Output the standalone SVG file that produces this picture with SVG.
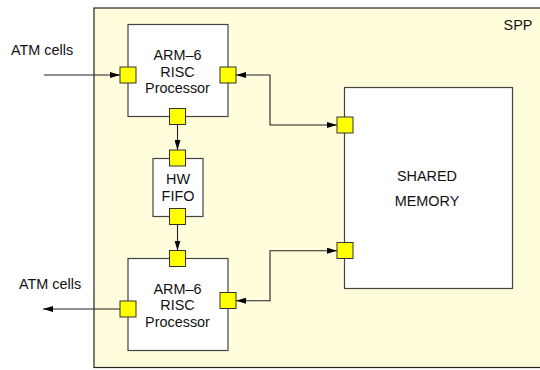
<svg xmlns="http://www.w3.org/2000/svg" width="540" height="370" viewBox="0 0 540 370">
<defs>
<marker id="ah" viewBox="0 0 10 6" refX="10" refY="3" markerWidth="10" markerHeight="6" markerUnits="userSpaceOnUse" orient="auto-start-reverse">
<path d="M0,0 L10,3 L0,6 Z" fill="#000"/>
</marker>
</defs>
<style>
.box{fill:#fff;stroke:#444;stroke-width:1.2}
.port{fill:#ffff00;stroke:#333;stroke-width:1}
.t{font-family:"Liberation Sans",Arial,sans-serif;font-size:14.4px;fill:#111;text-anchor:middle}
.tl{font-family:"Liberation Sans",Arial,sans-serif;font-size:14.4px;fill:#111}
.c{fill:none;stroke:#222;stroke-width:1.1}
</style>
<rect width="540" height="370" fill="#fff"/>
<g id="spp">
<rect x="94" y="8" width="460" height="359.5" fill="#fffddc" stroke="#222" stroke-width="1.2"/>
<text class="t" x="518" y="29.5">SPP</text>
</g>
<g id="connectors">
<path class="c" d="M44,75 H120" marker-end="url(#ah)"/>
<path class="c" d="M236,75 H270 V125 H337" marker-start="url(#ah)" marker-end="url(#ah)"/>
<path class="c" d="M177.5,125 V150" marker-end="url(#ah)"/>
<path class="c" d="M177.5,225 V250.5" marker-end="url(#ah)"/>
<path class="c" d="M236,300.7 H270 V250.7 H337" marker-start="url(#ah)" marker-end="url(#ah)"/>
<path class="c" d="M120,309 H43" marker-end="url(#ah)"/>
</g>
<g id="arm1">
<rect class="box" x="128" y="24.5" width="100" height="92"/>
<text class="t" x="177.5" y="59.5">ARM–6</text>
<text class="t" x="177.5" y="76.5">RISC</text>
<text class="t" x="177.5" y="93">Processor</text>
<rect class="port" x="120" y="67" width="16" height="16"/>
<rect class="port" x="220" y="67" width="16" height="16"/>
<rect class="port" x="169.5" y="108.5" width="16" height="16"/>
</g>
<g id="fifo">
<rect class="box" x="153" y="158.5" width="50" height="58"/>
<text class="t" x="178" y="184">HW</text>
<text class="t" x="178" y="201">FIFO</text>
<rect class="port" x="169.5" y="150" width="16" height="16"/>
<rect class="port" x="169.5" y="208.5" width="16" height="16"/>
</g>
<g id="arm2">
<rect class="box" x="128" y="258.5" width="100" height="92"/>
<text class="t" x="177.5" y="293.5">ARM–6</text>
<text class="t" x="177.5" y="310">RISC</text>
<text class="t" x="177.5" y="327">Processor</text>
<rect class="port" x="169.5" y="250.5" width="16" height="16"/>
<rect class="port" x="120" y="301" width="16" height="16"/>
<rect class="port" x="220" y="292.5" width="16" height="16"/>
</g>
<g id="memory">
<rect class="box" x="344.5" y="87.5" width="168" height="201"/>
<text class="t" x="427" y="180.5">SHARED</text>
<text class="t" x="427" y="205.5">MEMORY</text>
<rect class="port" x="337" y="117" width="16" height="16"/>
<rect class="port" x="337" y="242.5" width="16" height="16"/>
</g>
<g id="labels">
<text class="tl" x="11" y="54.5">ATM cells</text>
<text class="tl" x="19" y="288.5">ATM cells</text>
</g>
</svg>
